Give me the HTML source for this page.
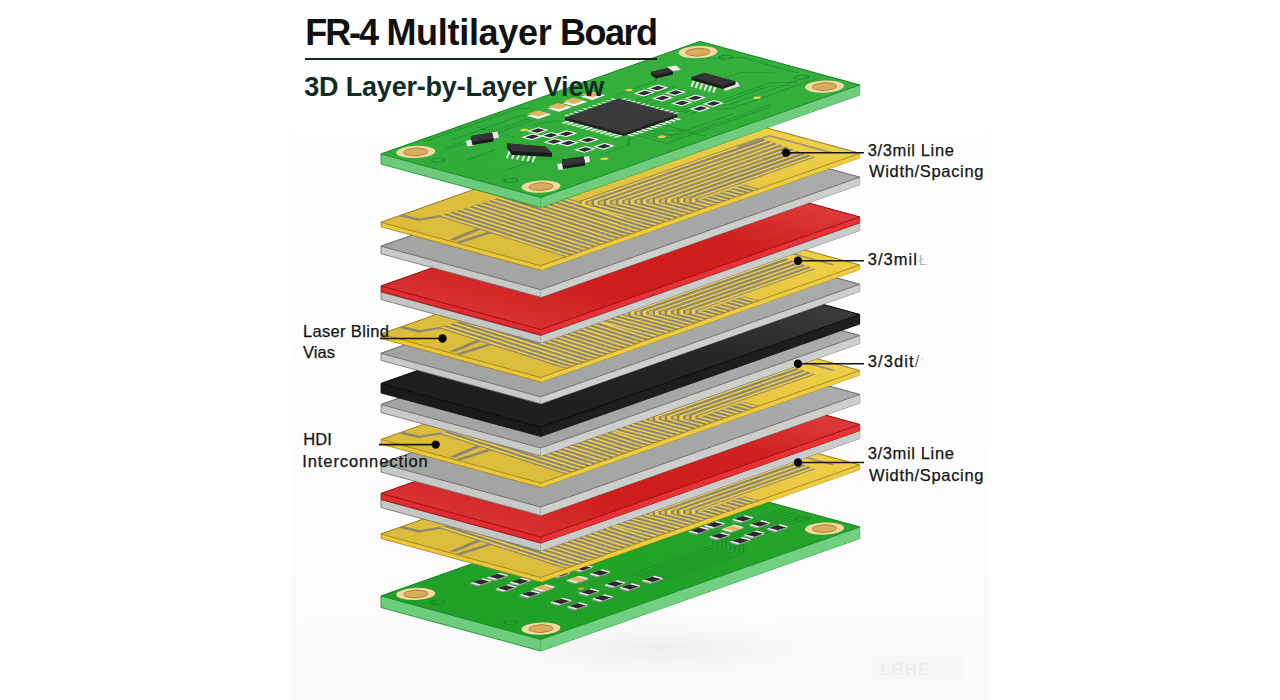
<!DOCTYPE html>
<html><head><meta charset="utf-8"><style>
html,body{margin:0;padding:0;background:#fff;width:1280px;height:700px;overflow:hidden}
#wrap{position:relative;width:1280px;height:700px}
svg{position:absolute;left:0;top:0}
.t{position:absolute;font-family:"Liberation Sans",sans-serif;white-space:nowrap;color:#111;line-height:normal}
.l{-webkit-text-stroke:0.25px #141414;position:absolute;font-family:"Liberation Sans",sans-serif;white-space:nowrap;color:#141414;font-size:16.5px;line-height:normal}
</style></head><body><div id="wrap">
<svg width="1280" height="700" viewBox="0 0 1280 700">
<defs>
<linearGradient id="bg" x1="0" y1="0" x2="0" y2="1">
<stop offset="0" stop-color="#ffffff"/><stop offset="0.6" stop-color="#fdfdfd"/><stop offset="1" stop-color="#f8f9f8"/>
</linearGradient>
<radialGradient id="sh" cx="0.5" cy="0.5" r="0.5">
<stop offset="0" stop-color="#e9eae9" stop-opacity="0.8"/><stop offset="1" stop-color="#f8f9f8" stop-opacity="0"/>
</radialGradient>
<linearGradient id="g_yellow" gradientUnits="userSpaceOnUse" x1="0" y1="0" x2="338.0" y2="0"><stop offset="0" stop-color="#dbbc3c"/><stop offset="0.5" stop-color="#e2c23a"/><stop offset="1" stop-color="#eecf48"/></linearGradient>
<linearGradient id="g_gray" gradientUnits="userSpaceOnUse" x1="0" y1="0" x2="338.0" y2="0"><stop offset="0" stop-color="#a2a4a1"/><stop offset="1" stop-color="#aaaca9"/></linearGradient>
<linearGradient id="g_grayb" gradientUnits="userSpaceOnUse" x1="0" y1="0" x2="338.0" y2="0"><stop offset="0" stop-color="#a2a4a1"/><stop offset="1" stop-color="#aaaca9"/></linearGradient>
<linearGradient id="g_red" gradientUnits="userSpaceOnUse" x1="0" y1="0" x2="338.0" y2="0"><stop offset="0" stop-color="#d83232"/><stop offset="0.3" stop-color="#cd1d1b"/><stop offset="0.7" stop-color="#cf201e"/><stop offset="1" stop-color="#dc3a3a"/></linearGradient>
<linearGradient id="g_black" gradientUnits="userSpaceOnUse" x1="0" y1="0" x2="338.0" y2="0"><stop offset="0" stop-color="#1d1e1e"/><stop offset="0.6" stop-color="#252726"/><stop offset="1" stop-color="#3a3c3b"/></linearGradient>
<linearGradient id="g_green" gradientUnits="userSpaceOnUse" x1="0" y1="0" x2="338.0" y2="0"><stop offset="0" stop-color="#32ac39"/><stop offset="1" stop-color="#36b03c"/></linearGradient>
<linearGradient id="g_greenb" gradientUnits="userSpaceOnUse" x1="0" y1="0" x2="338.0" y2="0"><stop offset="0" stop-color="#20a026"/><stop offset="1" stop-color="#26a42b"/></linearGradient>
<clipPath id="face"><rect x="0" y="0" width="338.0" height="166.0"/></clipPath>
</defs>
<filter id="blur4" x="-5%" y="-5%" width="110%" height="110%"><feGaussianBlur stdDeviation="3"/></filter>
<rect x="290" y="-10" width="700" height="720" fill="url(#bg)" filter="url(#blur4)"/>
<ellipse cx="660" cy="650" rx="230" ry="38" fill="url(#sh)"/>
<rect x="872" y="655" width="92" height="26" rx="3" fill="#f4f5f4" opacity="0.7"/><text x="880" y="675" font-family="Liberation Sans" font-size="17" font-weight="bold" fill="#ebedeb" letter-spacing="1">LBHE</text>
<polygon points="381.0,596.0 700.0,483.5 859.7,527.0 859.7,538.5 540.7,651.0 381.0,607.5" fill="#6ccd7c" stroke="#178a25" stroke-width="0.8" stroke-linejoin="round"/>
<polygon points="540.7,639.5 859.7,527.0 859.7,538.5 540.7,651.0" fill="#70cf80"/>
<line x1="540.7" y1="639.5" x2="540.7" y2="651.0" stroke="#178a25" stroke-width="0.6" opacity="0.6"/>
<g transform="matrix(0.94379 -0.33284 0.96205 0.26205 381.0 596.0)"><rect x="0" y="0" width="338.0" height="166.0" fill="url(#g_greenb)"/><g clip-path="url(#face)"><path d="M150 110.0 L240 110.0 L260 90.0 L332 90.0 M150 114.5 L240 114.5 L260 94.5 L332 94.5 M150 119.0 L240 119.0 L260 99.0 L332 99.0 M150 123.5 L240 123.5 L260 103.5 L332 103.5 M150 128.0 L240 128.0 L260 108.0 L332 108.0 M150 132.5 L240 132.5 L260 112.5 L332 112.5 M150 137.0 L240 137.0 L260 117.0 L332 117.0 M150 141.5 L240 141.5 L260 121.5 L332 121.5" fill="none" stroke="#1a8a2c" stroke-width="1.1"/>
<circle cx="19.5" cy="17" r="14.5" fill="#f3d9a4"/><circle cx="19.5" cy="17" r="9" fill="#d8ae5c" stroke="#a97c34" stroke-width="0.8"/><circle cx="319" cy="16.5" r="14.5" fill="#f3d9a4"/><circle cx="319" cy="16.5" r="9" fill="#d8ae5c" stroke="#a97c34" stroke-width="0.8"/><circle cx="319" cy="148" r="14.5" fill="#f3d9a4"/><circle cx="319" cy="148" r="9" fill="#d8ae5c" stroke="#a97c34" stroke-width="0.8"/><circle cx="18.6" cy="148" r="14.5" fill="#f3d9a4"/><circle cx="18.6" cy="148" r="9" fill="#d8ae5c" stroke="#a97c34" stroke-width="0.8"/>
<ellipse cx="16" cy="43.5" rx="5" ry="5" fill="none" stroke="#157a26" stroke-width="1"/>
<ellipse cx="15" cy="120" rx="5" ry="5" fill="none" stroke="#157a26" stroke-width="1"/>
<ellipse cx="323.5" cy="41" rx="5" ry="5" fill="none" stroke="#157a26" stroke-width="1"/>
<ellipse cx="324.5" cy="119" rx="5" ry="5" fill="none" stroke="#157a26" stroke-width="1"/>
<rect x="61.2" y="32.5" width="14" height="9" fill="#9a9a9a"/><rect x="63.2" y="30.5" width="14" height="9" fill="#f0f0f0"/><rect x="65.8" y="30.5" width="8.8" height="9" fill="#2a2a2e"/>
<rect x="78.2" y="33.1" width="14" height="9" fill="#9a9a9a"/><rect x="80.2" y="31.1" width="14" height="9" fill="#f0f0f0"/><rect x="82.8" y="31.1" width="8.8" height="9" fill="#2a2a2e"/>
<rect x="62.6" y="57.2" width="14" height="9" fill="#9a9a9a"/><rect x="64.6" y="55.2" width="14" height="9" fill="#f0f0f0"/><rect x="67.2" y="55.2" width="8.8" height="9" fill="#2a2a2e"/>
<rect x="80.1" y="54.6" width="14" height="9" fill="#9a9a9a"/><rect x="82.1" y="52.6" width="14" height="9" fill="#f0f0f0"/><rect x="84.7" y="52.6" width="8.8" height="9" fill="#2a2a2e"/>
<rect x="63.5" y="81.2" width="14" height="9" fill="#9a9a9a"/><rect x="65.5" y="79.2" width="14" height="9" fill="#f0f0f0"/><rect x="68.1" y="79.2" width="8.8" height="9" fill="#2a2a2e"/>
<rect x="65.1" y="111.9" width="14" height="9" fill="#9a9a9a"/><rect x="67.1" y="109.9" width="14" height="9" fill="#f0f0f0"/><rect x="69.7" y="109.9" width="8.8" height="9" fill="#2a2a2e"/>
<rect x="65.1" y="129.0" width="14" height="9" fill="#9a9a9a"/><rect x="67.1" y="127.0" width="14" height="9" fill="#f0f0f0"/><rect x="69.7" y="127.0" width="8.8" height="9" fill="#2a2a2e"/>
<rect x="94.1" y="112.5" width="14" height="9" fill="#9a9a9a"/><rect x="96.1" y="110.5" width="14" height="9" fill="#f0f0f0"/><rect x="98.7" y="110.5" width="8.8" height="9" fill="#2a2a2e"/>
<rect x="90.2" y="130.4" width="14" height="9" fill="#9a9a9a"/><rect x="92.2" y="128.4" width="14" height="9" fill="#f0f0f0"/><rect x="94.8" y="128.4" width="8.8" height="9" fill="#2a2a2e"/>
<rect x="119.7" y="114.4" width="14" height="9" fill="#9a9a9a"/><rect x="121.7" y="112.4" width="14" height="9" fill="#f0f0f0"/><rect x="124.3" y="112.4" width="8.8" height="9" fill="#2a2a2e"/>
<rect x="121.5" y="128.2" width="14" height="9" fill="#9a9a9a"/><rect x="123.5" y="126.2" width="14" height="9" fill="#f0f0f0"/><rect x="126.1" y="126.2" width="8.8" height="9" fill="#2a2a2e"/>
<rect x="144.6" y="129.0" width="14" height="9" fill="#9a9a9a"/><rect x="146.6" y="127.0" width="14" height="9" fill="#f0f0f0"/><rect x="149.2" y="127.0" width="8.8" height="9" fill="#2a2a2e"/>
<rect x="111.2" y="65.6" width="14" height="9" fill="#9a9a9a"/><rect x="113.2" y="63.6" width="14" height="9" fill="#f0f0f0"/><rect x="115.8" y="63.6" width="8.8" height="9" fill="#2a2a2e"/>
<rect x="131.4" y="87.4" width="14" height="9" fill="#9a9a9a"/><rect x="133.4" y="85.4" width="14" height="9" fill="#f0f0f0"/><rect x="136.0" y="85.4" width="8.8" height="9" fill="#2a2a2e"/>
<rect x="131.8" y="68.8" width="14" height="9" fill="#9a9a9a"/><rect x="133.8" y="66.8" width="14" height="9" fill="#f0f0f0"/><rect x="136.4" y="66.8" width="8.8" height="9" fill="#2a2a2e"/>
<rect x="289.1" y="81.2" width="14" height="9" fill="#9a9a9a"/><rect x="291.1" y="79.2" width="14" height="9" fill="#f0f0f0"/><rect x="293.7" y="79.2" width="8.8" height="9" fill="#2a2a2e"/>
<rect x="288.2" y="99.5" width="14" height="9" fill="#9a9a9a"/><rect x="290.2" y="97.5" width="14" height="9" fill="#f0f0f0"/><rect x="292.8" y="97.5" width="8.8" height="9" fill="#2a2a2e"/>
<rect x="289.9" y="116.5" width="14" height="9" fill="#9a9a9a"/><rect x="291.9" y="114.5" width="14" height="9" fill="#f0f0f0"/><rect x="294.5" y="114.5" width="8.8" height="9" fill="#2a2a2e"/>
<rect x="266.0" y="74.4" width="14" height="9" fill="#9a9a9a"/><rect x="268.0" y="72.4" width="14" height="9" fill="#f0f0f0"/><rect x="270.6" y="72.4" width="8.8" height="9" fill="#2a2a2e"/>
<rect x="249.3" y="74.6" width="14" height="9" fill="#9a9a9a"/><rect x="251.3" y="72.6" width="14" height="9" fill="#f0f0f0"/><rect x="253.9" y="72.6" width="8.8" height="9" fill="#2a2a2e"/>
<rect x="268.3" y="113.5" width="14" height="9" fill="#9a9a9a"/><rect x="270.3" y="111.5" width="14" height="9" fill="#f0f0f0"/><rect x="272.9" y="111.5" width="8.8" height="9" fill="#2a2a2e"/>
<rect x="249.4" y="96.0" width="14" height="9" fill="#9a9a9a"/><rect x="251.4" y="94.0" width="14" height="9" fill="#f0f0f0"/><rect x="254.0" y="94.0" width="8.8" height="9" fill="#2a2a2e"/>
<rect x="250.9" y="115.9" width="14" height="9" fill="#9a9a9a"/><rect x="252.9" y="113.9" width="14" height="9" fill="#f0f0f0"/><rect x="255.5" y="113.9" width="8.8" height="9" fill="#2a2a2e"/>
<rect x="80.1" y="79.0" width="14" height="10" fill="#9a9a9a"/><rect x="82.1" y="77.0" width="14" height="10" fill="#f0f0f0"/><rect x="84.7" y="77.0" width="8.8" height="10" fill="#e3b55e"/>
<rect x="110.0" y="84.5" width="14" height="10" fill="#9a9a9a"/><rect x="112.0" y="82.5" width="14" height="10" fill="#f0f0f0"/><rect x="114.6" y="82.5" width="8.8" height="10" fill="#e3b55e"/>
<rect x="268.2" y="90.5" width="14" height="10" fill="#9a9a9a"/><rect x="270.2" y="88.5" width="14" height="10" fill="#f0f0f0"/><rect x="272.8" y="88.5" width="8.8" height="10" fill="#e3b55e"/>
<circle cx="105" cy="105" r="2.5" fill="#e0a040"/></g><rect x="0" y="0" width="338.0" height="166.0" fill="none" stroke="#178a25" stroke-width="0.9" vector-effect="non-scaling-stroke"/></g>
<polygon points="381.0,534.0 700.0,421.5 859.7,465.0 859.7,469.5 540.7,582.0 381.0,538.5" fill="#eac838" stroke="#a08024" stroke-width="0.8" stroke-linejoin="round"/>
<polygon points="540.7,577.5 859.7,465.0 859.7,469.5 540.7,582.0" fill="#eecc3e"/>
<line x1="540.7" y1="577.5" x2="540.7" y2="582.0" stroke="#a08024" stroke-width="0.6" opacity="0.6"/>
<g transform="matrix(0.94379 -0.33284 0.96205 0.26205 381.0 534.0)"><rect x="0" y="0" width="338.0" height="166.0" fill="url(#g_yellow)"/><g clip-path="url(#face)"><path d="M21 0 L22 18 L39 25 L37 68 L3 71 M1 79 L35 81 L40 150 L44 167" fill="none" stroke="#8e8674" stroke-width="4.6" stroke-linejoin="round"/>
<path d="M30.0 167 L30.0 158 L40.0 24.0 M36.2 167 L36.2 158 L46.2 24.5 M42.4 167 L42.4 158 L52.4 25.0 M48.6 167 L48.6 158 L58.6 25.5 M54.8 167 L54.8 158 L64.8 26.0 M61.0 167 L61.0 158 L71.0 26.5 M67.2 167 L67.2 158 L77.2 27.0 M73.4 167 L73.4 158 L83.4 27.5 M79.6 167 L79.6 158 L89.6 28.0 M85.8 167 L85.8 158 L95.8 28.5 M92.0 167 L92.0 158 L102.0 29.0 M98.2 167 L98.2 158 L108.2 29.5 M104.4 167 L104.4 158 L114.4 30.0 M110.6 167 L110.6 158 L120.6 30.5 M116.8 167 L116.8 158 L126.8 31.0 M123.0 167 L123.0 90.0 L129.0 84.0 L318.0 84.0 M129.2 167 L129.2 96.6 L135.2 90.6 L317.2 90.6 M135.4 167 L135.4 103.2 L141.4 97.2 L316.4 97.2 M141.6 167 L141.6 109.8 L147.6 103.8 L315.6 103.8 M147.8 167 L147.8 116.4 L153.8 110.4 L314.8 110.4 M154.0 167 L154.0 123.0 L160.0 117.0 L314.0 117.0 M160.2 167 L160.2 129.6 L166.2 123.6 L313.2 123.6 M166.4 167 L166.4 136.2 L172.4 130.2 L312.4 130.2 M172.6 167 L172.6 142.8 L178.6 136.8 L311.6 136.8 M178.8 167 L178.8 149.4 L184.8 143.4 L310.8 143.4 M185.0 167 L185.0 150 M191.2 167 L191.2 150 M197.4 167 L197.4 150 M203.6 167 L203.6 150 M209.8 167 L209.8 150 M216.0 167 L216.0 150 M222.2 167 L222.2 150 M228.4 167 L228.4 150" fill="none" stroke="#8c8472" stroke-width="6.4" stroke-linejoin="round"/>
<path d="M30.0 167 L30.0 158 L40.0 24.0 M36.2 167 L36.2 158 L46.2 24.5 M42.4 167 L42.4 158 L52.4 25.0 M48.6 167 L48.6 158 L58.6 25.5 M54.8 167 L54.8 158 L64.8 26.0 M61.0 167 L61.0 158 L71.0 26.5 M67.2 167 L67.2 158 L77.2 27.0 M73.4 167 L73.4 158 L83.4 27.5 M79.6 167 L79.6 158 L89.6 28.0 M85.8 167 L85.8 158 L95.8 28.5 M92.0 167 L92.0 158 L102.0 29.0 M98.2 167 L98.2 158 L108.2 29.5 M104.4 167 L104.4 158 L114.4 30.0 M110.6 167 L110.6 158 L120.6 30.5 M116.8 167 L116.8 158 L126.8 31.0 M123.0 167 L123.0 90.0 L129.0 84.0 L318.0 84.0 M129.2 167 L129.2 96.6 L135.2 90.6 L317.2 90.6 M135.4 167 L135.4 103.2 L141.4 97.2 L316.4 97.2 M141.6 167 L141.6 109.8 L147.6 103.8 L315.6 103.8 M147.8 167 L147.8 116.4 L153.8 110.4 L314.8 110.4 M154.0 167 L154.0 123.0 L160.0 117.0 L314.0 117.0 M160.2 167 L160.2 129.6 L166.2 123.6 L313.2 123.6 M166.4 167 L166.4 136.2 L172.4 130.2 L312.4 130.2 M172.6 167 L172.6 142.8 L178.6 136.8 L311.6 136.8 M178.8 167 L178.8 149.4 L184.8 143.4 L310.8 143.4 M185.0 167 L185.0 150 M191.2 167 L191.2 150 M197.4 167 L197.4 150 M203.6 167 L203.6 150 M209.8 167 L209.8 150 M216.0 167 L216.0 150 M222.2 167 L222.2 150 M228.4 167 L228.4 150" fill="none" stroke="#eed04a" stroke-width="2.7"/>
<rect x="28.8" y="150" width="2.4" height="2.4" fill="#b8b0a0"/>
<rect x="35.0" y="150" width="2.4" height="2.4" fill="#b8b0a0"/>
<rect x="41.2" y="150" width="2.4" height="2.4" fill="#b8b0a0"/>
<rect x="47.4" y="150" width="2.4" height="2.4" fill="#b8b0a0"/>
<rect x="53.6" y="150" width="2.4" height="2.4" fill="#b8b0a0"/>
<rect x="59.8" y="150" width="2.4" height="2.4" fill="#b8b0a0"/>
<rect x="66.0" y="150" width="2.4" height="2.4" fill="#b8b0a0"/>
<rect x="72.2" y="150" width="2.4" height="2.4" fill="#b8b0a0"/>
<rect x="78.4" y="150" width="2.4" height="2.4" fill="#b8b0a0"/>
<rect x="84.6" y="150" width="2.4" height="2.4" fill="#b8b0a0"/>
<rect x="90.8" y="150" width="2.4" height="2.4" fill="#b8b0a0"/>
<rect x="97.0" y="150" width="2.4" height="2.4" fill="#b8b0a0"/>
<rect x="103.2" y="150" width="2.4" height="2.4" fill="#b8b0a0"/>
<rect x="109.4" y="150" width="2.4" height="2.4" fill="#b8b0a0"/>
<rect x="115.6" y="150" width="2.4" height="2.4" fill="#b8b0a0"/>
<rect x="121.8" y="150" width="2.4" height="2.4" fill="#b8b0a0"/>
<rect x="128.0" y="150" width="2.4" height="2.4" fill="#b8b0a0"/>
<rect x="134.2" y="150" width="2.4" height="2.4" fill="#b8b0a0"/>
<rect x="140.4" y="150" width="2.4" height="2.4" fill="#b8b0a0"/>
<rect x="146.6" y="150" width="2.4" height="2.4" fill="#b8b0a0"/>
<rect x="152.8" y="150" width="2.4" height="2.4" fill="#b8b0a0"/>
<rect x="159.0" y="150" width="2.4" height="2.4" fill="#b8b0a0"/>
<rect x="165.2" y="150" width="2.4" height="2.4" fill="#b8b0a0"/>
<rect x="171.4" y="150" width="2.4" height="2.4" fill="#b8b0a0"/>
<rect x="177.6" y="150" width="2.4" height="2.4" fill="#b8b0a0"/>
<rect x="183.8" y="150" width="2.4" height="2.4" fill="#b8b0a0"/>
<rect x="190.0" y="150" width="2.4" height="2.4" fill="#b8b0a0"/>
<rect x="196.2" y="150" width="2.4" height="2.4" fill="#b8b0a0"/>
<rect x="202.4" y="150" width="2.4" height="2.4" fill="#b8b0a0"/>
<rect x="208.6" y="150" width="2.4" height="2.4" fill="#b8b0a0"/>
<rect x="214.8" y="150" width="2.4" height="2.4" fill="#b8b0a0"/>
<rect x="221.0" y="150" width="2.4" height="2.4" fill="#b8b0a0"/>
<rect x="227.2" y="150" width="2.4" height="2.4" fill="#b8b0a0"/>
<path d="M292 84 L326 84 L326 150" fill="none" stroke="#a09170" stroke-width="3"/></g><rect x="0" y="0" width="338.0" height="166.0" fill="none" stroke="#a08024" stroke-width="0.9" vector-effect="non-scaling-stroke"/></g>
<polygon points="381.0,499.5 700.0,387.0 859.7,430.5 859.7,438.5 540.7,551.0 381.0,507.5" fill="#c4c6c4" stroke="#6a6c6a" stroke-width="0.8" stroke-linejoin="round"/>
<polygon points="540.7,543.0 859.7,430.5 859.7,438.5 540.7,551.0" fill="#cacccA"/>
<line x1="540.7" y1="543.0" x2="540.7" y2="551.0" stroke="#6a6c6a" stroke-width="0.6" opacity="0.6"/>
<g transform="matrix(0.94379 -0.33284 0.96205 0.26205 381.0 499.5)"><rect x="0" y="0" width="338.0" height="166.0" fill="url(#g_grayb)"/><g clip-path="url(#face)"></g><rect x="0" y="0" width="338.0" height="166.0" fill="none" stroke="#6a6c6a" stroke-width="0.9" vector-effect="non-scaling-stroke"/></g>
<polygon points="381.0,493.5 700.0,381.0 859.7,424.5 859.7,430.5 540.7,543.0 381.0,499.5" fill="#e22c31" stroke="#9a1010" stroke-width="0.8" stroke-linejoin="round"/>
<polygon points="540.7,537.0 859.7,424.5 859.7,430.5 540.7,543.0" fill="#e63237"/>
<line x1="540.7" y1="537.0" x2="540.7" y2="543.0" stroke="#9a1010" stroke-width="0.6" opacity="0.6"/>
<g transform="matrix(0.94379 -0.33284 0.96205 0.26205 381.0 493.5)"><rect x="0" y="0" width="338.0" height="166.0" fill="url(#g_red)"/><g clip-path="url(#face)"></g><rect x="0" y="0" width="338.0" height="166.0" fill="none" stroke="#9a1010" stroke-width="0.9" vector-effect="non-scaling-stroke"/></g>
<polygon points="381.0,463.5 700.0,351.0 859.7,394.5 859.7,403.0 540.7,515.5 381.0,472.0" fill="#c8cac8" stroke="#6a6c6a" stroke-width="0.8" stroke-linejoin="round"/>
<polygon points="540.7,507.0 859.7,394.5 859.7,403.0 540.7,515.5" fill="#cdcfcd"/>
<line x1="540.7" y1="507.0" x2="540.7" y2="515.5" stroke="#6a6c6a" stroke-width="0.6" opacity="0.6"/>
<g transform="matrix(0.94379 -0.33284 0.96205 0.26205 381.0 463.5)"><rect x="0" y="0" width="338.0" height="166.0" fill="url(#g_gray)"/><g clip-path="url(#face)"></g><rect x="0" y="0" width="338.0" height="166.0" fill="none" stroke="#6a6c6a" stroke-width="0.9" vector-effect="non-scaling-stroke"/></g>
<polygon points="381.0,439.5 700.0,327.0 859.7,370.5 859.7,375.0 540.7,487.5 381.0,444.0" fill="#eac838" stroke="#a08024" stroke-width="0.8" stroke-linejoin="round"/>
<polygon points="540.7,483.0 859.7,370.5 859.7,375.0 540.7,487.5" fill="#eecc3e"/>
<line x1="540.7" y1="483.0" x2="540.7" y2="487.5" stroke="#a08024" stroke-width="0.6" opacity="0.6"/>
<g transform="matrix(0.94379 -0.33284 0.96205 0.26205 381.0 439.5)"><rect x="0" y="0" width="338.0" height="166.0" fill="url(#g_yellow)"/><g clip-path="url(#face)"><path d="M21 0 L22 18 L39 25 L37 68 L3 71 M1 79 L35 81 L40 150 L44 167" fill="none" stroke="#8e8674" stroke-width="4.6" stroke-linejoin="round"/>
<path d="M30.0 167 L30.0 158 L40.0 24.0 M36.2 167 L36.2 158 L46.2 24.5 M42.4 167 L42.4 158 L52.4 25.0 M48.6 167 L48.6 158 L58.6 25.5 M54.8 167 L54.8 158 L64.8 26.0 M61.0 167 L61.0 158 L71.0 26.5 M67.2 167 L67.2 158 L77.2 27.0 M73.4 167 L73.4 158 L83.4 27.5 M79.6 167 L79.6 158 L89.6 28.0 M85.8 167 L85.8 158 L95.8 28.5 M92.0 167 L92.0 158 L102.0 29.0 M98.2 167 L98.2 158 L108.2 29.5 M104.4 167 L104.4 158 L114.4 30.0 M110.6 167 L110.6 158 L120.6 30.5 M116.8 167 L116.8 158 L126.8 31.0 M123.0 167 L123.0 90.0 L129.0 84.0 L318.0 84.0 M129.2 167 L129.2 96.6 L135.2 90.6 L317.2 90.6 M135.4 167 L135.4 103.2 L141.4 97.2 L316.4 97.2 M141.6 167 L141.6 109.8 L147.6 103.8 L315.6 103.8 M147.8 167 L147.8 116.4 L153.8 110.4 L314.8 110.4 M154.0 167 L154.0 123.0 L160.0 117.0 L314.0 117.0 M160.2 167 L160.2 129.6 L166.2 123.6 L313.2 123.6 M166.4 167 L166.4 136.2 L172.4 130.2 L312.4 130.2 M172.6 167 L172.6 142.8 L178.6 136.8 L311.6 136.8 M178.8 167 L178.8 149.4 L184.8 143.4 L310.8 143.4 M185.0 167 L185.0 150 M191.2 167 L191.2 150 M197.4 167 L197.4 150 M203.6 167 L203.6 150 M209.8 167 L209.8 150 M216.0 167 L216.0 150 M222.2 167 L222.2 150 M228.4 167 L228.4 150" fill="none" stroke="#8c8472" stroke-width="6.4" stroke-linejoin="round"/>
<path d="M30.0 167 L30.0 158 L40.0 24.0 M36.2 167 L36.2 158 L46.2 24.5 M42.4 167 L42.4 158 L52.4 25.0 M48.6 167 L48.6 158 L58.6 25.5 M54.8 167 L54.8 158 L64.8 26.0 M61.0 167 L61.0 158 L71.0 26.5 M67.2 167 L67.2 158 L77.2 27.0 M73.4 167 L73.4 158 L83.4 27.5 M79.6 167 L79.6 158 L89.6 28.0 M85.8 167 L85.8 158 L95.8 28.5 M92.0 167 L92.0 158 L102.0 29.0 M98.2 167 L98.2 158 L108.2 29.5 M104.4 167 L104.4 158 L114.4 30.0 M110.6 167 L110.6 158 L120.6 30.5 M116.8 167 L116.8 158 L126.8 31.0 M123.0 167 L123.0 90.0 L129.0 84.0 L318.0 84.0 M129.2 167 L129.2 96.6 L135.2 90.6 L317.2 90.6 M135.4 167 L135.4 103.2 L141.4 97.2 L316.4 97.2 M141.6 167 L141.6 109.8 L147.6 103.8 L315.6 103.8 M147.8 167 L147.8 116.4 L153.8 110.4 L314.8 110.4 M154.0 167 L154.0 123.0 L160.0 117.0 L314.0 117.0 M160.2 167 L160.2 129.6 L166.2 123.6 L313.2 123.6 M166.4 167 L166.4 136.2 L172.4 130.2 L312.4 130.2 M172.6 167 L172.6 142.8 L178.6 136.8 L311.6 136.8 M178.8 167 L178.8 149.4 L184.8 143.4 L310.8 143.4 M185.0 167 L185.0 150 M191.2 167 L191.2 150 M197.4 167 L197.4 150 M203.6 167 L203.6 150 M209.8 167 L209.8 150 M216.0 167 L216.0 150 M222.2 167 L222.2 150 M228.4 167 L228.4 150" fill="none" stroke="#eed04a" stroke-width="2.7"/>
<rect x="28.8" y="150" width="2.4" height="2.4" fill="#b8b0a0"/>
<rect x="35.0" y="150" width="2.4" height="2.4" fill="#b8b0a0"/>
<rect x="41.2" y="150" width="2.4" height="2.4" fill="#b8b0a0"/>
<rect x="47.4" y="150" width="2.4" height="2.4" fill="#b8b0a0"/>
<rect x="53.6" y="150" width="2.4" height="2.4" fill="#b8b0a0"/>
<rect x="59.8" y="150" width="2.4" height="2.4" fill="#b8b0a0"/>
<rect x="66.0" y="150" width="2.4" height="2.4" fill="#b8b0a0"/>
<rect x="72.2" y="150" width="2.4" height="2.4" fill="#b8b0a0"/>
<rect x="78.4" y="150" width="2.4" height="2.4" fill="#b8b0a0"/>
<rect x="84.6" y="150" width="2.4" height="2.4" fill="#b8b0a0"/>
<rect x="90.8" y="150" width="2.4" height="2.4" fill="#b8b0a0"/>
<rect x="97.0" y="150" width="2.4" height="2.4" fill="#b8b0a0"/>
<rect x="103.2" y="150" width="2.4" height="2.4" fill="#b8b0a0"/>
<rect x="109.4" y="150" width="2.4" height="2.4" fill="#b8b0a0"/>
<rect x="115.6" y="150" width="2.4" height="2.4" fill="#b8b0a0"/>
<rect x="121.8" y="150" width="2.4" height="2.4" fill="#b8b0a0"/>
<rect x="128.0" y="150" width="2.4" height="2.4" fill="#b8b0a0"/>
<rect x="134.2" y="150" width="2.4" height="2.4" fill="#b8b0a0"/>
<rect x="140.4" y="150" width="2.4" height="2.4" fill="#b8b0a0"/>
<rect x="146.6" y="150" width="2.4" height="2.4" fill="#b8b0a0"/>
<rect x="152.8" y="150" width="2.4" height="2.4" fill="#b8b0a0"/>
<rect x="159.0" y="150" width="2.4" height="2.4" fill="#b8b0a0"/>
<rect x="165.2" y="150" width="2.4" height="2.4" fill="#b8b0a0"/>
<rect x="171.4" y="150" width="2.4" height="2.4" fill="#b8b0a0"/>
<rect x="177.6" y="150" width="2.4" height="2.4" fill="#b8b0a0"/>
<rect x="183.8" y="150" width="2.4" height="2.4" fill="#b8b0a0"/>
<rect x="190.0" y="150" width="2.4" height="2.4" fill="#b8b0a0"/>
<rect x="196.2" y="150" width="2.4" height="2.4" fill="#b8b0a0"/>
<rect x="202.4" y="150" width="2.4" height="2.4" fill="#b8b0a0"/>
<rect x="208.6" y="150" width="2.4" height="2.4" fill="#b8b0a0"/>
<rect x="214.8" y="150" width="2.4" height="2.4" fill="#b8b0a0"/>
<rect x="221.0" y="150" width="2.4" height="2.4" fill="#b8b0a0"/>
<rect x="227.2" y="150" width="2.4" height="2.4" fill="#b8b0a0"/>
<path d="M292 84 L326 84 L326 150" fill="none" stroke="#a09170" stroke-width="3"/></g><rect x="0" y="0" width="338.0" height="166.0" fill="none" stroke="#a08024" stroke-width="0.9" vector-effect="non-scaling-stroke"/></g>
<polygon points="381.0,404.5 700.0,292.0 859.7,335.5 859.7,343.5 540.7,456.0 381.0,412.5" fill="#c8cac8" stroke="#6a6c6a" stroke-width="0.8" stroke-linejoin="round"/>
<polygon points="540.7,448.0 859.7,335.5 859.7,343.5 540.7,456.0" fill="#cdcfcd"/>
<line x1="540.7" y1="448.0" x2="540.7" y2="456.0" stroke="#6a6c6a" stroke-width="0.6" opacity="0.6"/>
<g transform="matrix(0.94379 -0.33284 0.96205 0.26205 381.0 404.5)"><rect x="0" y="0" width="338.0" height="166.0" fill="url(#g_gray)"/><g clip-path="url(#face)"></g><rect x="0" y="0" width="338.0" height="166.0" fill="none" stroke="#6a6c6a" stroke-width="0.9" vector-effect="non-scaling-stroke"/></g>
<polygon points="381.0,383.5 700.0,271.0 859.7,314.5 859.7,324.0 540.7,436.5 381.0,393.0" fill="#191a1a" stroke="#0c0c0c" stroke-width="0.8" stroke-linejoin="round"/>
<polygon points="540.7,427.0 859.7,314.5 859.7,324.0 540.7,436.5" fill="#1d1e1e"/>
<line x1="540.7" y1="427.0" x2="540.7" y2="436.5" stroke="#0c0c0c" stroke-width="0.6" opacity="0.6"/>
<g transform="matrix(0.94379 -0.33284 0.96205 0.26205 381.0 383.5)"><rect x="0" y="0" width="338.0" height="166.0" fill="url(#g_black)"/><g clip-path="url(#face)"></g><rect x="0" y="0" width="338.0" height="166.0" fill="none" stroke="#0c0c0c" stroke-width="0.9" vector-effect="non-scaling-stroke"/></g>
<polygon points="381.0,353.3 700.0,240.8 859.7,284.3 859.7,291.3 540.7,403.8 381.0,360.3" fill="#c8cac8" stroke="#6a6c6a" stroke-width="0.8" stroke-linejoin="round"/>
<polygon points="540.7,396.8 859.7,284.3 859.7,291.3 540.7,403.8" fill="#cdcfcd"/>
<line x1="540.7" y1="396.8" x2="540.7" y2="403.8" stroke="#6a6c6a" stroke-width="0.6" opacity="0.6"/>
<g transform="matrix(0.94379 -0.33284 0.96205 0.26205 381.0 353.3)"><rect x="0" y="0" width="338.0" height="166.0" fill="url(#g_gray)"/><g clip-path="url(#face)"></g><rect x="0" y="0" width="338.0" height="166.0" fill="none" stroke="#6a6c6a" stroke-width="0.9" vector-effect="non-scaling-stroke"/></g>
<polygon points="381.0,334.0 700.0,221.5 859.7,265.0 859.7,269.5 540.7,382.0 381.0,338.5" fill="#eac838" stroke="#a08024" stroke-width="0.8" stroke-linejoin="round"/>
<polygon points="540.7,377.5 859.7,265.0 859.7,269.5 540.7,382.0" fill="#eecc3e"/>
<line x1="540.7" y1="377.5" x2="540.7" y2="382.0" stroke="#a08024" stroke-width="0.6" opacity="0.6"/>
<g transform="matrix(0.94379 -0.33284 0.96205 0.26205 381.0 334.0)"><rect x="0" y="0" width="338.0" height="166.0" fill="url(#g_yellow)"/><g clip-path="url(#face)"><path d="M21 0 L22 18 L39 25 L37 68 L3 71 M1 79 L35 81 L40 150 L44 167" fill="none" stroke="#8e8674" stroke-width="4.6" stroke-linejoin="round"/>
<path d="M30.0 167 L30.0 158 L40.0 24.0 M36.2 167 L36.2 158 L46.2 24.5 M42.4 167 L42.4 158 L52.4 25.0 M48.6 167 L48.6 158 L58.6 25.5 M54.8 167 L54.8 158 L64.8 26.0 M61.0 167 L61.0 158 L71.0 26.5 M67.2 167 L67.2 158 L77.2 27.0 M73.4 167 L73.4 158 L83.4 27.5 M79.6 167 L79.6 158 L89.6 28.0 M85.8 167 L85.8 158 L95.8 28.5 M92.0 167 L92.0 158 L102.0 29.0 M98.2 167 L98.2 158 L108.2 29.5 M104.4 167 L104.4 158 L114.4 30.0 M110.6 167 L110.6 158 L120.6 30.5 M116.8 167 L116.8 158 L126.8 31.0 M123.0 167 L123.0 90.0 L129.0 84.0 L318.0 84.0 M129.2 167 L129.2 96.6 L135.2 90.6 L317.2 90.6 M135.4 167 L135.4 103.2 L141.4 97.2 L316.4 97.2 M141.6 167 L141.6 109.8 L147.6 103.8 L315.6 103.8 M147.8 167 L147.8 116.4 L153.8 110.4 L314.8 110.4 M154.0 167 L154.0 123.0 L160.0 117.0 L314.0 117.0 M160.2 167 L160.2 129.6 L166.2 123.6 L313.2 123.6 M166.4 167 L166.4 136.2 L172.4 130.2 L312.4 130.2 M172.6 167 L172.6 142.8 L178.6 136.8 L311.6 136.8 M178.8 167 L178.8 149.4 L184.8 143.4 L310.8 143.4 M185.0 167 L185.0 150 M191.2 167 L191.2 150 M197.4 167 L197.4 150 M203.6 167 L203.6 150 M209.8 167 L209.8 150 M216.0 167 L216.0 150 M222.2 167 L222.2 150 M228.4 167 L228.4 150" fill="none" stroke="#8c8472" stroke-width="6.4" stroke-linejoin="round"/>
<path d="M30.0 167 L30.0 158 L40.0 24.0 M36.2 167 L36.2 158 L46.2 24.5 M42.4 167 L42.4 158 L52.4 25.0 M48.6 167 L48.6 158 L58.6 25.5 M54.8 167 L54.8 158 L64.8 26.0 M61.0 167 L61.0 158 L71.0 26.5 M67.2 167 L67.2 158 L77.2 27.0 M73.4 167 L73.4 158 L83.4 27.5 M79.6 167 L79.6 158 L89.6 28.0 M85.8 167 L85.8 158 L95.8 28.5 M92.0 167 L92.0 158 L102.0 29.0 M98.2 167 L98.2 158 L108.2 29.5 M104.4 167 L104.4 158 L114.4 30.0 M110.6 167 L110.6 158 L120.6 30.5 M116.8 167 L116.8 158 L126.8 31.0 M123.0 167 L123.0 90.0 L129.0 84.0 L318.0 84.0 M129.2 167 L129.2 96.6 L135.2 90.6 L317.2 90.6 M135.4 167 L135.4 103.2 L141.4 97.2 L316.4 97.2 M141.6 167 L141.6 109.8 L147.6 103.8 L315.6 103.8 M147.8 167 L147.8 116.4 L153.8 110.4 L314.8 110.4 M154.0 167 L154.0 123.0 L160.0 117.0 L314.0 117.0 M160.2 167 L160.2 129.6 L166.2 123.6 L313.2 123.6 M166.4 167 L166.4 136.2 L172.4 130.2 L312.4 130.2 M172.6 167 L172.6 142.8 L178.6 136.8 L311.6 136.8 M178.8 167 L178.8 149.4 L184.8 143.4 L310.8 143.4 M185.0 167 L185.0 150 M191.2 167 L191.2 150 M197.4 167 L197.4 150 M203.6 167 L203.6 150 M209.8 167 L209.8 150 M216.0 167 L216.0 150 M222.2 167 L222.2 150 M228.4 167 L228.4 150" fill="none" stroke="#eed04a" stroke-width="2.7"/>
<rect x="28.8" y="150" width="2.4" height="2.4" fill="#b8b0a0"/>
<rect x="35.0" y="150" width="2.4" height="2.4" fill="#b8b0a0"/>
<rect x="41.2" y="150" width="2.4" height="2.4" fill="#b8b0a0"/>
<rect x="47.4" y="150" width="2.4" height="2.4" fill="#b8b0a0"/>
<rect x="53.6" y="150" width="2.4" height="2.4" fill="#b8b0a0"/>
<rect x="59.8" y="150" width="2.4" height="2.4" fill="#b8b0a0"/>
<rect x="66.0" y="150" width="2.4" height="2.4" fill="#b8b0a0"/>
<rect x="72.2" y="150" width="2.4" height="2.4" fill="#b8b0a0"/>
<rect x="78.4" y="150" width="2.4" height="2.4" fill="#b8b0a0"/>
<rect x="84.6" y="150" width="2.4" height="2.4" fill="#b8b0a0"/>
<rect x="90.8" y="150" width="2.4" height="2.4" fill="#b8b0a0"/>
<rect x="97.0" y="150" width="2.4" height="2.4" fill="#b8b0a0"/>
<rect x="103.2" y="150" width="2.4" height="2.4" fill="#b8b0a0"/>
<rect x="109.4" y="150" width="2.4" height="2.4" fill="#b8b0a0"/>
<rect x="115.6" y="150" width="2.4" height="2.4" fill="#b8b0a0"/>
<rect x="121.8" y="150" width="2.4" height="2.4" fill="#b8b0a0"/>
<rect x="128.0" y="150" width="2.4" height="2.4" fill="#b8b0a0"/>
<rect x="134.2" y="150" width="2.4" height="2.4" fill="#b8b0a0"/>
<rect x="140.4" y="150" width="2.4" height="2.4" fill="#b8b0a0"/>
<rect x="146.6" y="150" width="2.4" height="2.4" fill="#b8b0a0"/>
<rect x="152.8" y="150" width="2.4" height="2.4" fill="#b8b0a0"/>
<rect x="159.0" y="150" width="2.4" height="2.4" fill="#b8b0a0"/>
<rect x="165.2" y="150" width="2.4" height="2.4" fill="#b8b0a0"/>
<rect x="171.4" y="150" width="2.4" height="2.4" fill="#b8b0a0"/>
<rect x="177.6" y="150" width="2.4" height="2.4" fill="#b8b0a0"/>
<rect x="183.8" y="150" width="2.4" height="2.4" fill="#b8b0a0"/>
<rect x="190.0" y="150" width="2.4" height="2.4" fill="#b8b0a0"/>
<rect x="196.2" y="150" width="2.4" height="2.4" fill="#b8b0a0"/>
<rect x="202.4" y="150" width="2.4" height="2.4" fill="#b8b0a0"/>
<rect x="208.6" y="150" width="2.4" height="2.4" fill="#b8b0a0"/>
<rect x="214.8" y="150" width="2.4" height="2.4" fill="#b8b0a0"/>
<rect x="221.0" y="150" width="2.4" height="2.4" fill="#b8b0a0"/>
<rect x="227.2" y="150" width="2.4" height="2.4" fill="#b8b0a0"/>
<path d="M292 84 L326 84 L326 150" fill="none" stroke="#a09170" stroke-width="3"/></g><rect x="0" y="0" width="338.0" height="166.0" fill="none" stroke="#a08024" stroke-width="0.9" vector-effect="non-scaling-stroke"/></g>
<polygon points="381.0,292.0 700.0,179.5 859.7,223.0 859.7,230.5 540.7,343.0 381.0,299.5" fill="#c4c6c4" stroke="#6a6c6a" stroke-width="0.8" stroke-linejoin="round"/>
<polygon points="540.7,335.5 859.7,223.0 859.7,230.5 540.7,343.0" fill="#cacccA"/>
<line x1="540.7" y1="335.5" x2="540.7" y2="343.0" stroke="#6a6c6a" stroke-width="0.6" opacity="0.6"/>
<g transform="matrix(0.94379 -0.33284 0.96205 0.26205 381.0 292.0)"><rect x="0" y="0" width="338.0" height="166.0" fill="url(#g_grayb)"/><g clip-path="url(#face)"></g><rect x="0" y="0" width="338.0" height="166.0" fill="none" stroke="#6a6c6a" stroke-width="0.9" vector-effect="non-scaling-stroke"/></g>
<polygon points="381.0,286.0 700.0,173.5 859.7,217.0 859.7,222.5 540.7,335.0 381.0,291.5" fill="#e22c31" stroke="#9a1010" stroke-width="0.8" stroke-linejoin="round"/>
<polygon points="540.7,329.5 859.7,217.0 859.7,222.5 540.7,335.0" fill="#e63237"/>
<line x1="540.7" y1="329.5" x2="540.7" y2="335.0" stroke="#9a1010" stroke-width="0.6" opacity="0.6"/>
<g transform="matrix(0.94379 -0.33284 0.96205 0.26205 381.0 286.0)"><rect x="0" y="0" width="338.0" height="166.0" fill="url(#g_red)"/><g clip-path="url(#face)"></g><rect x="0" y="0" width="338.0" height="166.0" fill="none" stroke="#9a1010" stroke-width="0.9" vector-effect="non-scaling-stroke"/></g>
<polygon points="381.0,246.2 700.0,133.7 859.7,177.2 859.7,184.7 540.7,297.2 381.0,253.7" fill="#c8cac8" stroke="#6a6c6a" stroke-width="0.8" stroke-linejoin="round"/>
<polygon points="540.7,289.7 859.7,177.2 859.7,184.7 540.7,297.2" fill="#cdcfcd"/>
<line x1="540.7" y1="289.7" x2="540.7" y2="297.2" stroke="#6a6c6a" stroke-width="0.6" opacity="0.6"/>
<g transform="matrix(0.94379 -0.33284 0.96205 0.26205 381.0 246.2)"><rect x="0" y="0" width="338.0" height="166.0" fill="url(#g_gray)"/><g clip-path="url(#face)"></g><rect x="0" y="0" width="338.0" height="166.0" fill="none" stroke="#6a6c6a" stroke-width="0.9" vector-effect="non-scaling-stroke"/></g>
<polygon points="381.0,222.3 700.0,109.8 859.7,153.3 859.7,157.8 540.7,270.3 381.0,226.8" fill="#eac838" stroke="#a08024" stroke-width="0.8" stroke-linejoin="round"/>
<polygon points="540.7,265.8 859.7,153.3 859.7,157.8 540.7,270.3" fill="#eecc3e"/>
<line x1="540.7" y1="265.8" x2="540.7" y2="270.3" stroke="#a08024" stroke-width="0.6" opacity="0.6"/>
<g transform="matrix(0.94379 -0.33284 0.96205 0.26205 381.0 222.3)"><rect x="0" y="0" width="338.0" height="166.0" fill="url(#g_yellow)"/><g clip-path="url(#face)"><path d="M21 0 L22 18 L39 25 L37 68 L3 71 M1 79 L35 81 L40 150 L44 167" fill="none" stroke="#8e8674" stroke-width="4.6" stroke-linejoin="round"/>
<path d="M30.0 167 L30.0 158 L40.0 24.0 M36.2 167 L36.2 158 L46.2 24.5 M42.4 167 L42.4 158 L52.4 25.0 M48.6 167 L48.6 158 L58.6 25.5 M54.8 167 L54.8 158 L64.8 26.0 M61.0 167 L61.0 158 L71.0 26.5 M67.2 167 L67.2 158 L77.2 27.0 M73.4 167 L73.4 158 L83.4 27.5 M79.6 167 L79.6 158 L89.6 28.0 M85.8 167 L85.8 158 L95.8 28.5 M92.0 167 L92.0 158 L102.0 29.0 M98.2 167 L98.2 158 L108.2 29.5 M104.4 167 L104.4 158 L114.4 30.0 M110.6 167 L110.6 158 L120.6 30.5 M116.8 167 L116.8 158 L126.8 31.0 M123.0 167 L123.0 90.0 L129.0 84.0 L318.0 84.0 M129.2 167 L129.2 96.6 L135.2 90.6 L317.2 90.6 M135.4 167 L135.4 103.2 L141.4 97.2 L316.4 97.2 M141.6 167 L141.6 109.8 L147.6 103.8 L315.6 103.8 M147.8 167 L147.8 116.4 L153.8 110.4 L314.8 110.4 M154.0 167 L154.0 123.0 L160.0 117.0 L314.0 117.0 M160.2 167 L160.2 129.6 L166.2 123.6 L313.2 123.6 M166.4 167 L166.4 136.2 L172.4 130.2 L312.4 130.2 M172.6 167 L172.6 142.8 L178.6 136.8 L311.6 136.8 M178.8 167 L178.8 149.4 L184.8 143.4 L310.8 143.4 M185.0 167 L185.0 150 M191.2 167 L191.2 150 M197.4 167 L197.4 150 M203.6 167 L203.6 150 M209.8 167 L209.8 150 M216.0 167 L216.0 150 M222.2 167 L222.2 150 M228.4 167 L228.4 150" fill="none" stroke="#8c8472" stroke-width="6.4" stroke-linejoin="round"/>
<path d="M30.0 167 L30.0 158 L40.0 24.0 M36.2 167 L36.2 158 L46.2 24.5 M42.4 167 L42.4 158 L52.4 25.0 M48.6 167 L48.6 158 L58.6 25.5 M54.8 167 L54.8 158 L64.8 26.0 M61.0 167 L61.0 158 L71.0 26.5 M67.2 167 L67.2 158 L77.2 27.0 M73.4 167 L73.4 158 L83.4 27.5 M79.6 167 L79.6 158 L89.6 28.0 M85.8 167 L85.8 158 L95.8 28.5 M92.0 167 L92.0 158 L102.0 29.0 M98.2 167 L98.2 158 L108.2 29.5 M104.4 167 L104.4 158 L114.4 30.0 M110.6 167 L110.6 158 L120.6 30.5 M116.8 167 L116.8 158 L126.8 31.0 M123.0 167 L123.0 90.0 L129.0 84.0 L318.0 84.0 M129.2 167 L129.2 96.6 L135.2 90.6 L317.2 90.6 M135.4 167 L135.4 103.2 L141.4 97.2 L316.4 97.2 M141.6 167 L141.6 109.8 L147.6 103.8 L315.6 103.8 M147.8 167 L147.8 116.4 L153.8 110.4 L314.8 110.4 M154.0 167 L154.0 123.0 L160.0 117.0 L314.0 117.0 M160.2 167 L160.2 129.6 L166.2 123.6 L313.2 123.6 M166.4 167 L166.4 136.2 L172.4 130.2 L312.4 130.2 M172.6 167 L172.6 142.8 L178.6 136.8 L311.6 136.8 M178.8 167 L178.8 149.4 L184.8 143.4 L310.8 143.4 M185.0 167 L185.0 150 M191.2 167 L191.2 150 M197.4 167 L197.4 150 M203.6 167 L203.6 150 M209.8 167 L209.8 150 M216.0 167 L216.0 150 M222.2 167 L222.2 150 M228.4 167 L228.4 150" fill="none" stroke="#eed04a" stroke-width="2.7"/>
<rect x="28.8" y="150" width="2.4" height="2.4" fill="#b8b0a0"/>
<rect x="35.0" y="150" width="2.4" height="2.4" fill="#b8b0a0"/>
<rect x="41.2" y="150" width="2.4" height="2.4" fill="#b8b0a0"/>
<rect x="47.4" y="150" width="2.4" height="2.4" fill="#b8b0a0"/>
<rect x="53.6" y="150" width="2.4" height="2.4" fill="#b8b0a0"/>
<rect x="59.8" y="150" width="2.4" height="2.4" fill="#b8b0a0"/>
<rect x="66.0" y="150" width="2.4" height="2.4" fill="#b8b0a0"/>
<rect x="72.2" y="150" width="2.4" height="2.4" fill="#b8b0a0"/>
<rect x="78.4" y="150" width="2.4" height="2.4" fill="#b8b0a0"/>
<rect x="84.6" y="150" width="2.4" height="2.4" fill="#b8b0a0"/>
<rect x="90.8" y="150" width="2.4" height="2.4" fill="#b8b0a0"/>
<rect x="97.0" y="150" width="2.4" height="2.4" fill="#b8b0a0"/>
<rect x="103.2" y="150" width="2.4" height="2.4" fill="#b8b0a0"/>
<rect x="109.4" y="150" width="2.4" height="2.4" fill="#b8b0a0"/>
<rect x="115.6" y="150" width="2.4" height="2.4" fill="#b8b0a0"/>
<rect x="121.8" y="150" width="2.4" height="2.4" fill="#b8b0a0"/>
<rect x="128.0" y="150" width="2.4" height="2.4" fill="#b8b0a0"/>
<rect x="134.2" y="150" width="2.4" height="2.4" fill="#b8b0a0"/>
<rect x="140.4" y="150" width="2.4" height="2.4" fill="#b8b0a0"/>
<rect x="146.6" y="150" width="2.4" height="2.4" fill="#b8b0a0"/>
<rect x="152.8" y="150" width="2.4" height="2.4" fill="#b8b0a0"/>
<rect x="159.0" y="150" width="2.4" height="2.4" fill="#b8b0a0"/>
<rect x="165.2" y="150" width="2.4" height="2.4" fill="#b8b0a0"/>
<rect x="171.4" y="150" width="2.4" height="2.4" fill="#b8b0a0"/>
<rect x="177.6" y="150" width="2.4" height="2.4" fill="#b8b0a0"/>
<rect x="183.8" y="150" width="2.4" height="2.4" fill="#b8b0a0"/>
<rect x="190.0" y="150" width="2.4" height="2.4" fill="#b8b0a0"/>
<rect x="196.2" y="150" width="2.4" height="2.4" fill="#b8b0a0"/>
<rect x="202.4" y="150" width="2.4" height="2.4" fill="#b8b0a0"/>
<rect x="208.6" y="150" width="2.4" height="2.4" fill="#b8b0a0"/>
<rect x="214.8" y="150" width="2.4" height="2.4" fill="#b8b0a0"/>
<rect x="221.0" y="150" width="2.4" height="2.4" fill="#b8b0a0"/>
<rect x="227.2" y="150" width="2.4" height="2.4" fill="#b8b0a0"/>
<path d="M292 84 L326 84 L326 150" fill="none" stroke="#a09170" stroke-width="3"/></g><rect x="0" y="0" width="338.0" height="166.0" fill="none" stroke="#a08024" stroke-width="0.9" vector-effect="non-scaling-stroke"/></g>
<polygon points="381.0,154.0 700.0,41.5 859.7,85.0 859.7,95.0 540.7,207.5 381.0,164.0" fill="#6ccb7a" stroke="#178a25" stroke-width="0.8" stroke-linejoin="round"/>
<polygon points="540.7,197.5 859.7,85.0 859.7,95.0 540.7,207.5" fill="#6fcd7d"/>
<line x1="540.7" y1="197.5" x2="540.7" y2="207.5" stroke="#178a25" stroke-width="0.6" opacity="0.6"/>
<g transform="matrix(0.94379 -0.33284 0.96205 0.26205 381.0 154.0)"><rect x="0" y="0" width="338.0" height="166.0" fill="url(#g_green)"/><g clip-path="url(#face)"><path d="M40 5 L140 5 L150 15 M55 18 L130 18 L142 30 M205 60 L250 60 M205 68 L250 68 M205 76 L250 76 M205 84 L250 84 M205 100 L240 130 L330 130 M205 92 L245 122 L332 122 M150 113 L150 150 L220 150 M165 113 L165 140 L230 140 M180 113 L180 160 M120 40 L140 50 M90 10 L90 50 M300 20 L330 50 L330 110 M285 75 L305 75 L320 95 M210 110 L300 110 L315 125 M210 115 L296 115 L310 130 M205 104 L250 104 M155 118 L155 135 L170 150 L260 150 M160 118 L160 132 L176 146 L265 146 M170 118 L170 128 L184 142 M40 28 L60 28 M85 28 L135 28 M40 32 L58 32 M86 33 L130 33 M30 60 L60 60 M30 100 L62 100 L75 112 M100 130 L130 130 L140 120 L146 120 M210 40 L250 40 L262 30" fill="none" stroke="#1a8a2c" stroke-width="1.1"/>
<circle cx="19.5" cy="17" r="14.5" fill="#f3d9a4"/><circle cx="19.5" cy="17" r="9" fill="#d8ae5c" stroke="#a97c34" stroke-width="0.8"/><circle cx="319" cy="16.5" r="14.5" fill="#f3d9a4"/><circle cx="319" cy="16.5" r="9" fill="#d8ae5c" stroke="#a97c34" stroke-width="0.8"/><circle cx="319" cy="148" r="14.5" fill="#f3d9a4"/><circle cx="319" cy="148" r="9" fill="#d8ae5c" stroke="#a97c34" stroke-width="0.8"/><circle cx="18.6" cy="148" r="14.5" fill="#f3d9a4"/><circle cx="18.6" cy="148" r="9" fill="#d8ae5c" stroke="#a97c34" stroke-width="0.8"/>
<ellipse cx="16" cy="43.5" rx="5" ry="5" fill="none" stroke="#157a26" stroke-width="1"/>
<ellipse cx="15" cy="120" rx="5" ry="5" fill="none" stroke="#157a26" stroke-width="1"/>
<ellipse cx="323.5" cy="41" rx="5" ry="5" fill="none" stroke="#157a26" stroke-width="1"/>
<ellipse cx="324.5" cy="119" rx="5" ry="5" fill="none" stroke="#157a26" stroke-width="1"/>
<circle cx="107" cy="44" r="3" fill="#e5d34a"/>
<circle cx="223" cy="39" r="3" fill="#e5d34a"/>
<circle cx="95" cy="139" r="3" fill="#e5d34a"/>
<circle cx="159" cy="136" r="3" fill="#e5d34a"/>
<circle cx="269" cy="127" r="3" fill="#e5d34a"/>
<rect x="135.8" y="54.2" width="8" height="2.8" fill="#f2f2f2"/><rect x="203.0" y="50.0" width="4.5" height="2.2" fill="#e6e6e6"/><rect x="135.8" y="59.1" width="8" height="2.8" fill="#f2f2f2"/><rect x="203.0" y="54.9" width="4.5" height="2.2" fill="#e6e6e6"/><rect x="135.8" y="64.0" width="8" height="2.8" fill="#f2f2f2"/><rect x="203.0" y="59.8" width="4.5" height="2.2" fill="#e6e6e6"/><rect x="135.8" y="68.9" width="8" height="2.8" fill="#f2f2f2"/><rect x="203.0" y="64.7" width="4.5" height="2.2" fill="#e6e6e6"/><rect x="135.8" y="73.8" width="8" height="2.8" fill="#f2f2f2"/><rect x="203.0" y="69.6" width="4.5" height="2.2" fill="#e6e6e6"/><rect x="135.8" y="78.7" width="8" height="2.8" fill="#f2f2f2"/><rect x="203.0" y="74.5" width="4.5" height="2.2" fill="#e6e6e6"/><rect x="135.8" y="83.6" width="8" height="2.8" fill="#f2f2f2"/><rect x="203.0" y="79.4" width="4.5" height="2.2" fill="#e6e6e6"/><rect x="135.8" y="88.5" width="8" height="2.8" fill="#f2f2f2"/><rect x="203.0" y="84.3" width="4.5" height="2.2" fill="#e6e6e6"/><rect x="135.8" y="93.4" width="8" height="2.8" fill="#f2f2f2"/><rect x="203.0" y="89.2" width="4.5" height="2.2" fill="#e6e6e6"/><rect x="135.8" y="98.3" width="8" height="2.8" fill="#f2f2f2"/><rect x="203.0" y="94.1" width="4.5" height="2.2" fill="#e6e6e6"/><rect x="135.8" y="103.2" width="8" height="2.8" fill="#f2f2f2"/><rect x="203.0" y="99.0" width="4.5" height="2.2" fill="#e6e6e6"/><rect x="135.8" y="108.1" width="8" height="2.8" fill="#f2f2f2"/><rect x="203.0" y="103.9" width="4.5" height="2.2" fill="#e6e6e6"/><rect x="145.8" y="110.2" width="2.8" height="8" fill="#f2f2f2"/><rect x="150.0" y="43" width="2.2" height="4.5" fill="#e6e6e6"/><rect x="150.7" y="110.2" width="2.8" height="8" fill="#f2f2f2"/><rect x="154.9" y="43" width="2.2" height="4.5" fill="#e6e6e6"/><rect x="155.6" y="110.2" width="2.8" height="8" fill="#f2f2f2"/><rect x="159.8" y="43" width="2.2" height="4.5" fill="#e6e6e6"/><rect x="160.5" y="110.2" width="2.8" height="8" fill="#f2f2f2"/><rect x="164.7" y="43" width="2.2" height="4.5" fill="#e6e6e6"/><rect x="165.4" y="110.2" width="2.8" height="8" fill="#f2f2f2"/><rect x="169.6" y="43" width="2.2" height="4.5" fill="#e6e6e6"/><rect x="170.3" y="110.2" width="2.8" height="8" fill="#f2f2f2"/><rect x="174.5" y="43" width="2.2" height="4.5" fill="#e6e6e6"/><rect x="175.2" y="110.2" width="2.8" height="8" fill="#f2f2f2"/><rect x="179.4" y="43" width="2.2" height="4.5" fill="#e6e6e6"/><rect x="180.1" y="110.2" width="2.8" height="8" fill="#f2f2f2"/><rect x="184.3" y="43" width="2.2" height="4.5" fill="#e6e6e6"/><rect x="185.0" y="110.2" width="2.8" height="8" fill="#f2f2f2"/><rect x="189.2" y="43" width="2.2" height="4.5" fill="#e6e6e6"/><rect x="189.9" y="110.2" width="2.8" height="8" fill="#f2f2f2"/><rect x="194.1" y="43" width="2.2" height="4.5" fill="#e6e6e6"/><rect x="194.8" y="110.2" width="2.8" height="8" fill="#f2f2f2"/><rect x="199.0" y="43" width="2.2" height="4.5" fill="#e6e6e6"/>
<rect x="142.8" y="51.2" width="57" height="61" fill="#1e1e20"/>
<polygon points="147,47 147,108 204,108 199.8,112.2 142.8,112.2 142.8,51.2" fill="#222224"/>
<rect x="147" y="47" width="57" height="61" fill="#3a3a3c"/>
<rect x="219" y="47.5" width="12" height="11" fill="#f4f4f4"/>
<rect x="221" y="49.5" width="8" height="7" fill="#2b2b33"/>
<rect x="233.5" y="47.0" width="12" height="11" fill="#f4f4f4"/>
<rect x="235.5" y="49.0" width="8" height="7" fill="#2b2b33"/>
<rect x="234" y="65.0" width="12" height="11" fill="#f4f4f4"/>
<rect x="236" y="67.0" width="8" height="7" fill="#2b2b33"/>
<rect x="219" y="66.5" width="12" height="11" fill="#f4f4f4"/>
<rect x="221" y="68.5" width="8" height="7" fill="#2b2b33"/>
<rect x="219.5" y="86.0" width="12" height="11" fill="#f4f4f4"/>
<rect x="221.5" y="88.0" width="8" height="7" fill="#2b2b33"/>
<rect x="234" y="85.5" width="12" height="11" fill="#f4f4f4"/>
<rect x="236" y="87.5" width="8" height="7" fill="#2b2b33"/>
<rect x="218.5" y="106.0" width="12" height="11" fill="#f4f4f4"/>
<rect x="220.5" y="108.0" width="8" height="7" fill="#2b2b33"/>
<rect x="233" y="105.5" width="12" height="11" fill="#f4f4f4"/>
<rect x="235" y="107.5" width="8" height="7" fill="#2b2b33"/>
<rect x="106" y="47.5" width="12" height="11" fill="#f4f4f4"/>
<rect x="108" y="49.5" width="8" height="7" fill="#2b2b33"/>
<rect x="104" y="63.0" width="12" height="11" fill="#f4f4f4"/>
<rect x="106" y="65.0" width="8" height="7" fill="#2b2b33"/>
<rect x="114" y="69.5" width="12" height="11" fill="#f4f4f4"/>
<rect x="116" y="71.5" width="8" height="7" fill="#2b2b33"/>
<rect x="93" y="54.5" width="12" height="11" fill="#f4f4f4"/>
<rect x="95" y="56.5" width="8" height="7" fill="#2b2b33"/>
<rect x="95" y="75.5" width="12" height="11" fill="#f4f4f4"/>
<rect x="97" y="77.5" width="8" height="7" fill="#2b2b33"/>
<rect x="99" y="86.0" width="12" height="11" fill="#f4f4f4"/>
<rect x="101" y="88.0" width="8" height="7" fill="#2b2b33"/>
<rect x="113.5" y="92.5" width="12" height="11" fill="#f4f4f4"/>
<rect x="115.5" y="94.5" width="8" height="7" fill="#2b2b33"/>
<rect x="96" y="106.5" width="12" height="11" fill="#f4f4f4"/>
<rect x="98" y="108.5" width="8" height="7" fill="#2b2b33"/>
<rect x="110" y="112.5" width="12" height="11" fill="#f4f4f4"/>
<rect x="112" y="114.5" width="8" height="7" fill="#2b2b33"/>
<rect x="132" y="22" width="14" height="12" fill="#f5f5f5"/>
<rect x="136.0" y="19" width="10" height="11" fill="#e0b458"/>
<rect x="154" y="22" width="14" height="12" fill="#f5f5f5"/>
<rect x="158.0" y="19" width="10" height="11" fill="#e0b458"/>
<rect x="170" y="22" width="14" height="12" fill="#f5f5f5"/>
<rect x="174.0" y="19" width="10" height="11" fill="#e0b458"/>
<rect x="189" y="22" width="14" height="12" fill="#f5f5f5"/>
<rect x="193.0" y="19" width="10" height="11" fill="#e0b458"/></g><rect x="0" y="0" width="338.0" height="166.0" fill="none" stroke="#178a25" stroke-width="0.9" vector-effect="non-scaling-stroke"/></g>
<polygon points="465.5,141 472,139.5 474,145.5 467.5,146.5" fill="#e8e8e8"/>
<polygon points="490,132.5 497.5,131.5 499,137.5 492,139" fill="#e8e8e8"/>
<polygon points="471.0,136.0 492.0,132.5 493.5,138.5 493.5,141.5 472.5,145.0 471.0,139.0" fill="#1b1b1d"/><polygon points="471.0,136.0 492.0,132.5 493.5,138.5 472.5,142.0" fill="#343436"/>
<polygon points="667,67 676,65.5 681,69.5 672,71.5" fill="#ececec"/>
<polygon points="651.0,72.0 668.0,68.0 673.0,71.5 673.0,74.5 656.0,78.5 651.0,75.0" fill="#1b1b1d"/><polygon points="651.0,72.0 668.0,68.0 673.0,71.5 656.0,75.5" fill="#343436"/>
<polygon points="557,164 564,163 565.5,169 558.5,170" fill="#e8e8e8"/>
<polygon points="582,157 589,156 590,162 583.5,163" fill="#e8e8e8"/>
<polygon points="562.0,159.5 583.5,156.5 585.0,162.5 585.0,165.5 563.0,169.0 562.0,162.5" fill="#1b1b1d"/><polygon points="562.0,159.5 583.5,156.5 585.0,162.5 563.0,166.0" fill="#343436"/>
<line x1="509.6" y1="151.3" x2="507.1" y2="157.3" stroke="#f2f2f2" stroke-width="2.0" stroke-linecap="round"/><line x1="514.7" y1="152.1" x2="512.2" y2="158.1" stroke="#f2f2f2" stroke-width="2.0" stroke-linecap="round"/><line x1="519.8" y1="152.9" x2="517.3" y2="158.9" stroke="#f2f2f2" stroke-width="2.0" stroke-linecap="round"/><line x1="525.0" y1="153.8" x2="522.5" y2="159.8" stroke="#f2f2f2" stroke-width="2.0" stroke-linecap="round"/><line x1="530.1" y1="154.6" x2="527.6" y2="160.6" stroke="#f2f2f2" stroke-width="2.0" stroke-linecap="round"/><line x1="535.2" y1="155.4" x2="532.7" y2="161.4" stroke="#f2f2f2" stroke-width="2.0" stroke-linecap="round"/>
<polygon points="507.0,143.5 545.0,146.5 552.0,153.0 552.0,157.0 512.0,155.0 507.0,147.5" fill="#1b1b1d"/><polygon points="507.0,143.5 545.0,146.5 552.0,153.0 512.0,151.0" fill="#343436"/>
<polygon points="722,86 737,81.5 740,86 725,91" fill="#e4e4e4"/>
<line x1="694.1" y1="80.1" x2="691.6" y2="86.1" stroke="#f2f2f2" stroke-width="2.0" stroke-linecap="round"/><line x1="698.4" y1="81.2" x2="695.9" y2="87.2" stroke="#f2f2f2" stroke-width="2.0" stroke-linecap="round"/><line x1="702.8" y1="82.4" x2="700.3" y2="88.4" stroke="#f2f2f2" stroke-width="2.0" stroke-linecap="round"/><line x1="707.2" y1="83.6" x2="704.7" y2="89.6" stroke="#f2f2f2" stroke-width="2.0" stroke-linecap="round"/><line x1="711.6" y1="84.8" x2="709.1" y2="90.8" stroke="#f2f2f2" stroke-width="2.0" stroke-linecap="round"/><line x1="715.9" y1="85.9" x2="713.4" y2="91.9" stroke="#f2f2f2" stroke-width="2.0" stroke-linecap="round"/>
<polygon points="691.5,77.0 704.5,73.0 735.5,81.5 735.5,84.5 722.5,89.0 691.5,80.0" fill="#1b1b1d"/><polygon points="691.5,77.0 704.5,73.0 735.5,81.5 722.5,86.0" fill="#343436"/>
<line x1="786" y1="152.7" x2="864" y2="152.7" stroke="#151515" stroke-width="1.6"/><circle cx="786" cy="152.7" r="4.2" fill="#0a0a0a"/>
<line x1="798" y1="260.7" x2="864" y2="260.7" stroke="#151515" stroke-width="1.6"/><circle cx="798" cy="260.7" r="4.2" fill="#0a0a0a"/>
<line x1="798" y1="363.7" x2="864" y2="363.7" stroke="#151515" stroke-width="1.6"/><circle cx="798" cy="363.7" r="4.2" fill="#0a0a0a"/>
<line x1="798" y1="462.5" x2="864" y2="462.5" stroke="#151515" stroke-width="1.6"/><circle cx="798" cy="462.5" r="4.2" fill="#0a0a0a"/>
<line x1="380" y1="338.5" x2="442.5" y2="338.5" stroke="#151515" stroke-width="1.6"/><circle cx="442.5" cy="338.5" r="4.2" fill="#0a0a0a"/>
<line x1="379" y1="444.6" x2="435.7" y2="444.6" stroke="#151515" stroke-width="1.6"/><circle cx="435.7" cy="444.6" r="4.2" fill="#0a0a0a"/>
</svg>
<div class="t" style="left:305.2px;top:12px;font-size:36px;font-weight:bold;letter-spacing:-2.03px">FR-4</div><div class="t" style="left:386.4px;top:12px;font-size:36px;font-weight:bold;letter-spacing:-0.29px">Multilayer</div><div class="t" style="left:559.9px;top:12px;font-size:36px;font-weight:bold;letter-spacing:-1.5px">Board</div>
<div style="position:absolute;left:305.3px;top:57.9px;width:352px;height:2.4px;background:#10291f"></div>
<div class="t" style="left:304.3px;top:72.4px;font-size:27px;font-weight:bold;color:#0f2c23;letter-spacing:-0.2px">3D Layer-by-Layer View</div>
<div class="l" style="left:867.8px;top:141px;letter-spacing:0.63px">3/3mil Line</div>
<div class="l" style="left:869.0px;top:162px;letter-spacing:0.67px">Width/Spacing</div>
<div class="l" style="left:867.8px;top:249.5px;letter-spacing:1.0px">3/3mil<span style="color:#b4b4b4;-webkit-text-stroke:0;font-size:14px;letter-spacing:0;margin-left:1px">&#x141;</span></div>
<div class="l" style="left:867.8px;top:352.3px;letter-spacing:1.1px">3/3dit<span style="color:#6a6a6a;-webkit-text-stroke:0">/</span><span style="color:#d0d0d0;-webkit-text-stroke:0;font-size:12px">&#x2019;</span></div>
<div class="l" style="left:867.8px;top:443.5px;letter-spacing:0.63px">3/3mil Line</div>
<div class="l" style="left:869.0px;top:465.6px;letter-spacing:0.67px">Width/Spacing</div>
<div class="l" style="left:302.9px;top:321.6px;letter-spacing:0.34px">Laser Blind</div>
<div class="l" style="left:303.1px;top:342.7px;letter-spacing:0.0px">Vias</div>
<div class="l" style="left:303.3px;top:430.2px;letter-spacing:0.0px">HDI</div>
<div class="l" style="left:302.3px;top:452.1px;letter-spacing:0.9px">Interconnection</div>
</div></body></html>
